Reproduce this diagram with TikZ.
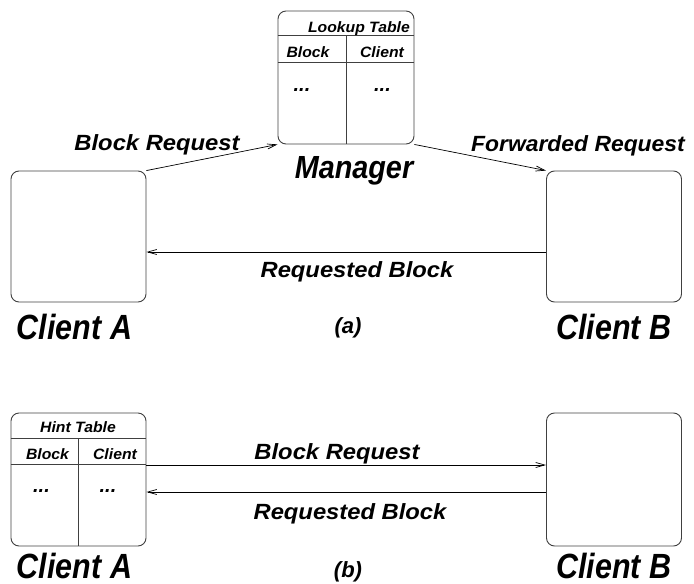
\documentclass[tikz,border=0pt]{standalone}
\usepackage{fontspec}
\setmainfont{Liberation Sans}
\newfontfamily\fcl[FakeStretch=0.87]{Liberation Sans}
\newfontfamily\fmg[FakeStretch=0.90]{Liberation Sans}
\newfontfamily\flb[FakeStretch=1.08]{Liberation Sans}
\newfontfamily\ffw[FakeStretch=1.04]{Liberation Sans}
\newfontfamily\ftb[FakeStretch=1.05]{Liberation Sans}
\usetikzlibrary{arrows.meta,calc}
\tikzset{
  x=1pt,y=-1pt,
  box/.style={draw=black!75,line width=0.9pt,rounded corners=8pt,rectangle,inner sep=0pt,minimum width=135pt,minimum height=131pt},
  tline/.style={draw=black!75,line width=0.9pt},
  arr/.style={draw=black,line width=0.7pt,-{Straight Barb[length=9pt,width=5pt]}},
  lbl/.style={inner sep=0pt,anchor=base,font=\flb\fontsize{22}{22}\selectfont\bfseries\itshape},
  fwd/.style={inner sep=0pt,anchor=base,font=\ffw\fontsize{22}{22}\selectfont\bfseries\itshape},
  sublbl/.style={inner sep=0pt,anchor=base,font=\fontsize{22}{22}\selectfont\bfseries\itshape},
  cli/.style={inner sep=0pt,anchor=base,font=\fcl\fontsize{35}{35}\selectfont\bfseries\itshape},
  mgrs/.style={inner sep=0pt,anchor=base,font=\fmg\fontsize{32}{32}\selectfont\bfseries\itshape},
  tab/.style={inner sep=0pt,anchor=base,font=\ftb\fontsize{15}{15}\selectfont\bfseries\itshape},
  dots/.style={inner sep=0pt,anchor=base,font=\fontsize{20}{20}\selectfont\bfseries\itshape},
}
\begin{document}
\begin{tikzpicture}
\useasboundingbox (0,0) rectangle (694,584);
% ---------- (a) ----------
\node[box,minimum width=136pt,minimum height=133pt] (mgr) at (346,77.5) {};
\draw[tline] ([yshift=-25pt]mgr.north west) -- ([yshift=-25pt]mgr.north east);
\draw[tline] ([yshift=-52pt]mgr.north west) -- ([yshift=-52pt]mgr.north east);
\draw[tline] ([yshift=-25pt]mgr.north) -- (mgr.south);
\node[tab,anchor=base east] (lt) at (410,32) {Lookup Table};
\node[tab] (mb) at (308,57) {Block};
\node[tab] (mc) at (382,57) {Client};
\node[dots] (md1) at (302,91) {...};
\node[dots] (md2) at (382.5,91) {...};
\node[mgrs] (mgrl) at (354,178) {Manager};

\node[box] (ca) at (78.5,236.5) {};
\node[box] (cb) at (614,236.5) {};
\draw[arr] (ca.north east) -- (mgr.south west);
\draw[arr] (mgr.south east) -- (cb.north west);
\draw[arr] ([yshift=-15.5pt]cb.west) -- ([yshift=-15.5pt]ca.east);
\node[lbl] (br1) at (157,150) {Block Request};
\node[fwd] (fr) at (578,151) {Forwarded Request};
\node[lbl] (rb1) at (357,277) {Requested Block};
\node[sublbl] (a) at (348,333) {(a)};
\node[cli] (cal) at (74.5,339) {Client A};
\node[cli] (cbl) at (614,339) {Client B};
% ---------- (b) ----------
\node[box,minimum height=133pt] (ht) at (78.5,479.5) {};
\draw[tline] ([yshift=-26pt]ht.north west) -- ([yshift=-26pt]ht.north east);
\draw[tline] ([yshift=-52pt]ht.north west) -- ([yshift=-52pt]ht.north east);
\draw[tline] ([yshift=-26pt]ht.north) -- (ht.south);
\node[tab] (htl) at (78,432) {Hint Table};
\node[tab] (hb) at (47.5,459) {Block};
\node[tab] (hc) at (115,459) {Client};
\node[dots] (hd1) at (41.5,492) {...};
\node[dots] (hd2) at (108,492) {...};
\node[box,minimum height=133pt] (cb2) at (614,479.5) {};
\draw[arr] ([yshift=14.5pt]ht.east) -- ([yshift=14.5pt]cb2.west);
\draw[arr] ([yshift=-12.5pt]cb2.west) -- ([yshift=-12.5pt]ht.east);
\node[lbl] (br2) at (337,459) {Block Request};
\node[lbl] (rb2) at (350,519) {Requested Block};
\node[sublbl] (b) at (348,577) {(b)};
\node[cli] (cal2) at (74.5,578) {Client A};
\node[cli] (cbl2) at (614,578) {Client B};
\end{tikzpicture}
\end{document}
